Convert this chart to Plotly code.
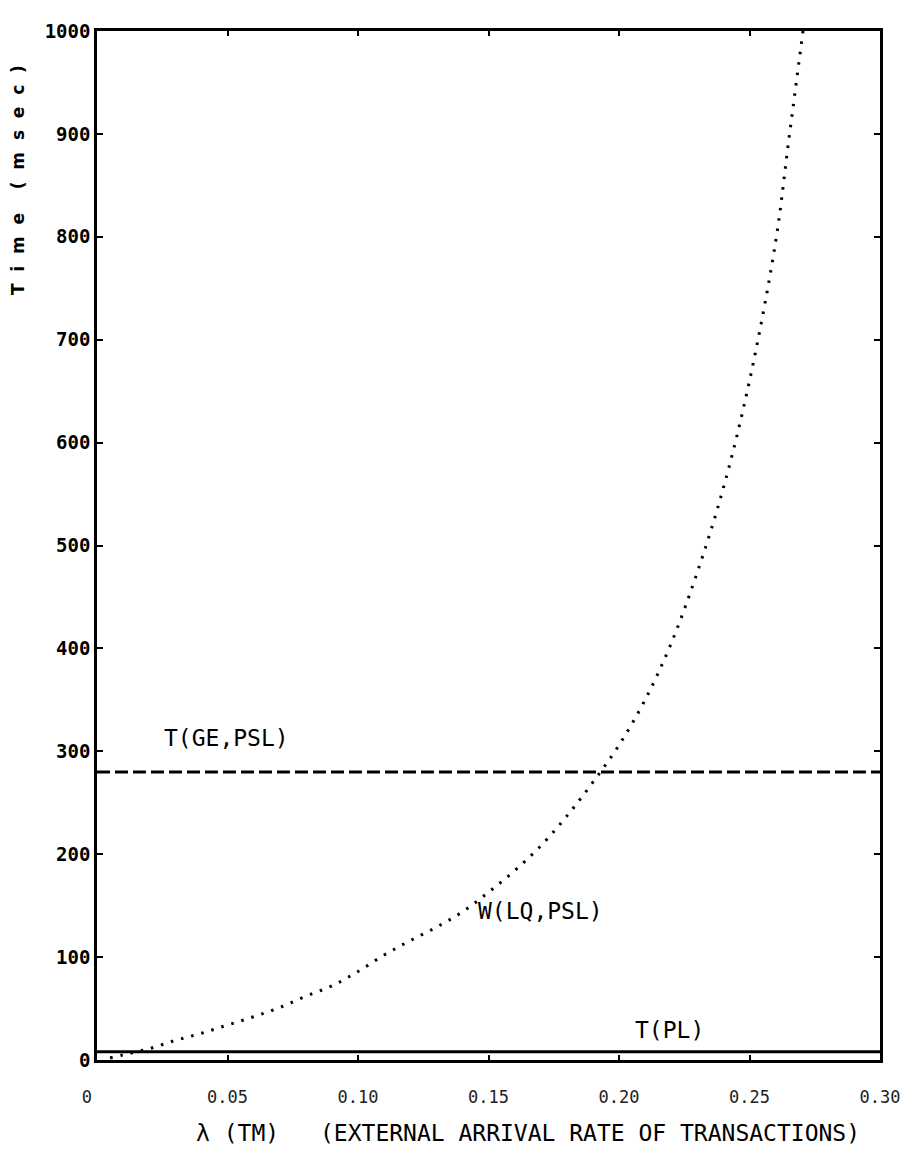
import plotly.graph_objects as go

# ---- data ----
lam_w = [0.005, 0.01, 0.02, 0.03, 0.04, 0.05, 0.06, 0.07, 0.08, 0.09, 0.10,
         0.11, 0.12, 0.13, 0.14, 0.15, 0.16, 0.17, 0.18, 0.19, 0.20, 0.21,
         0.22, 0.23, 0.24, 0.25, 0.26, 0.265, 0.2705]
w_lq_psl = [2, 5, 11, 19, 26, 34, 42, 51, 62, 72, 86,
            102, 116, 129, 144, 163, 184, 208, 237, 270, 306, 350,
            405, 474, 556, 660, 795, 893, 1000]

lam_line = [0.0, 0.30]
t_ge_psl = [280, 280]
t_pl = [8, 8]

x_ticks = [0, 0.05, 0.10, 0.15, 0.20, 0.25, 0.30]
x_tick_text = ["0\u00a0\u00a0", "0.05", "0.10", "0.15", "0.20", "0.25", "0.30"]
y_ticks = [0, 100, 200, 300, 400, 500, 600, 700, 800, 900, 1000]
y_tick_text = ["0", "100", "200", "300", "400", "500", "600", "700", "800", "900", "1000"]

MONO = "DejaVu Sans Mono"
NB = "\u00a0"

fig = go.Figure()
fig.add_trace(go.Scatter(x=lam_line, y=t_ge_psl, mode="lines",
                         line=dict(color="black", width=3, dash="13px,5px"),
                         showlegend=False, hoverinfo="skip"))
fig.add_trace(go.Scatter(x=lam_line, y=t_pl, mode="lines",
                         line=dict(color="black", width=3),
                         showlegend=False, hoverinfo="skip"))
fig.add_trace(go.Scatter(x=lam_w, y=w_lq_psl, mode="lines",
                         line=dict(color="black", width=3, dash="2.5px,8px", shape="spline"),
                         showlegend=False, hoverinfo="skip"))

ytitle = (NB * 2).join("Time") + NB * 4 + (NB * 2).join("(msec)")

fig.update_layout(
    width=917, height=1160,
    margin=dict(l=89, r=45, t=20, b=108),
    paper_bgcolor="white", plot_bgcolor="white",
    xaxis=dict(range=[0, 0.30], tickvals=x_ticks, ticktext=x_tick_text,
               showline=True, linewidth=2.5, linecolor="black", mirror="ticks",
               ticks="inside", ticklen=5, tickwidth=2, tickcolor="black",
               showgrid=False, zeroline=False, ticklabelstandoff=20,
               tickfont=dict(family=MONO, size=17, color="#222")),
    yaxis=dict(range=[0, 1000], tickvals=y_ticks, ticktext=y_tick_text,
               showline=True, linewidth=2.5, linecolor="black", mirror="ticks",
               ticks="inside", ticklen=6, tickwidth=2, tickcolor="black",
               showgrid=False, zeroline=False,
               tickfont=dict(family=MONO, size=19, color="black", weight="bold")),
    annotations=[
        dict(x=0.0495, y=298, xref="x", yref="y", text="T(GE,PSL)", showarrow=False,
             font=dict(family=MONO, size=23, color="black"), xanchor="center", yanchor="bottom"),
        dict(x=0.1700, y=145, xref="x", yref="y", text="W(LQ,PSL)", showarrow=False,
             font=dict(family=MONO, size=23, color="black"), xanchor="center", yanchor="middle"),
        dict(x=0.2195, y=29, xref="x", yref="y", text="T(PL)", showarrow=False,
             font=dict(family=MONO, size=23, color="black"), xanchor="center", yanchor="middle"),
        dict(x=0.179, y=-0.0707, xref="paper", yref="paper", text="λ (TM)", showarrow=False,
             font=dict(family=MONO, size=23, color="black"), xanchor="center", yanchor="middle"),
        dict(x=0.63, y=-0.0707, xref="paper", yref="paper",
             text="(EXTERNAL ARRIVAL RATE OF TRANSACTIONS)", showarrow=False,
             font=dict(family=MONO, size=23, color="black"), xanchor="center", yanchor="middle"),
        dict(x=-0.101, y=0.855, xref="paper", yref="paper",
             text="<b>" + ytitle + "</b>",
             textangle=-90, showarrow=False, xanchor="center", yanchor="middle",
             font=dict(family="DejaVu Sans", size=17, color="black")),
    ],
)

fig.write_html("out.html")
